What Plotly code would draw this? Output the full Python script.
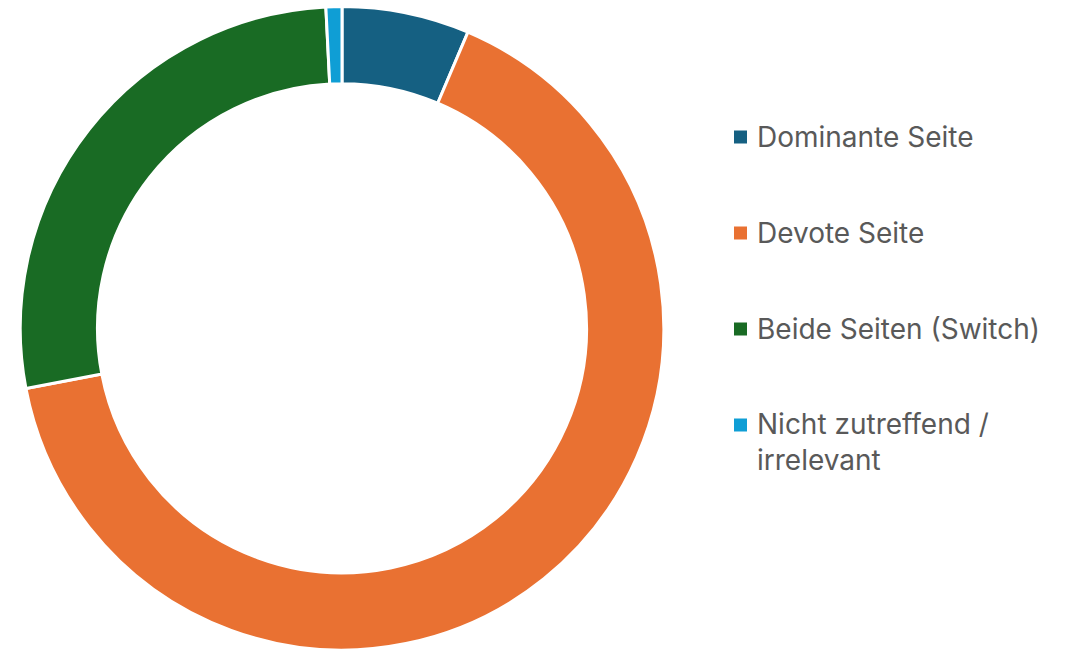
import plotly.graph_objects as go

labels = ["Dominante Seite", "Devote Seite", "Beide Seiten (Switch)", "Nicht zutreffend /<br>irrelevant"]
values = [6.4, 65.6, 27.2, 0.8]
colors = ["#156082", "#E97132", "#196B24", "#0F9ED5"]

W, H = 1071, 650

fig = go.Figure()
fig.add_trace(go.Pie(
    labels=labels, values=values, hole=0.76, sort=False, direction="clockwise",
    rotation=0, textinfo="none", hoverinfo="label+percent",
    marker=dict(colors=colors, line=dict(color="white", width=3)),
    domain=dict(x=[19 / W, 665 / W], y=[0, 0.99]),
    showlegend=False,
))

legend_y = [137, 233, 329, 425]
for lab, col, yy in zip(labels, colors, legend_y):
    fig.add_shape(type="rect", xref="paper", yref="paper",
                  x0=734 / W, x1=747 / W, y0=1 - (yy + 6.5) / H, y1=1 - (yy - 6.5) / H,
                  fillcolor=col, line=dict(width=0))
    multi = "<br>" in lab
    fig.add_annotation(text=lab, xref="paper", yref="paper", x=755 / W,
                       y=1 - (yy - 20) / H if multi else 1 - yy / H,
                       xanchor="left", yanchor="top" if multi else "middle",
                       align="left", showarrow=False,
                       font=dict(family="Inter", size=28, color="#595959"))

fig.update_layout(width=W, height=H, margin=dict(l=0, r=0, t=0, b=0),
                  paper_bgcolor="white", plot_bgcolor="white")
fig.write_html("out.html", config={"displayModeBar": False},
               post_script="document.body.style.margin='0';")
